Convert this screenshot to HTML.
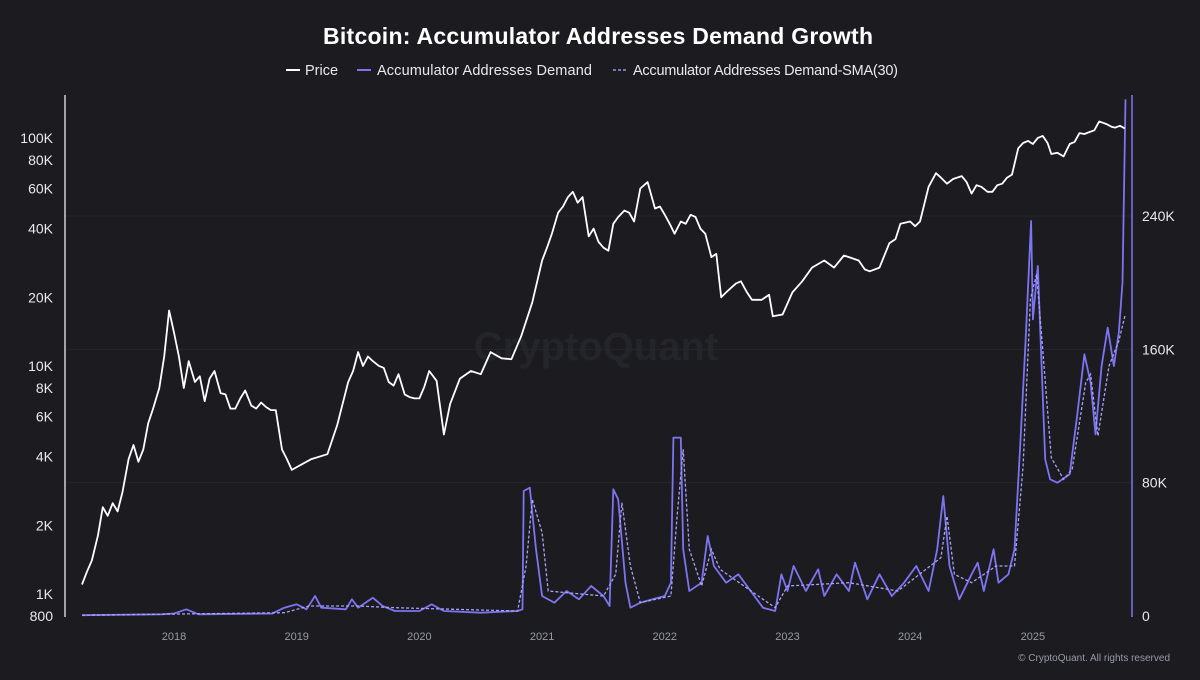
<!DOCTYPE html>
<html><head><meta charset="utf-8"><style>
html,body{margin:0;padding:0;background:#1b1b20;}
body{width:1200px;height:675px;overflow:hidden;font-family:"Liberation Sans",sans-serif;}
</style></head><body>
<svg id="chart" width="1200" height="675" xmlns="http://www.w3.org/2000/svg">
<rect width="1200" height="675" fill="#1b1b20"/>
<text x="598" y="44" fill="#ffffff" font-size="23" font-weight="bold" text-anchor="middle" textLength="550">Bitcoin: Accumulator Addresses Demand Growth</text>
<g font-size="14.5" fill="#e8e8ee">
 <g><line x1="286" y1="70" x2="300" y2="70" stroke="#fff" stroke-width="2"/><text x="305" y="75">Price</text></g>
 <g><line x1="357" y1="70" x2="371" y2="70" stroke="#7d74f2" stroke-width="2"/><text x="377" y="75" textLength="215">Accumulator Addresses Demand</text></g>
 <g><line x1="613" y1="70" x2="627" y2="70" stroke="#9a93f5" stroke-width="1.5" stroke-dasharray="3,2"/><text x="633" y="75" textLength="265">Accumulator Addresses Demand-SMA(30)</text></g>
</g>
<text x="596" y="360" fill="#24242b" font-size="40" font-weight="bold" text-anchor="middle">CryptoQuant</text>
<g id="grid"></g>
<g id="leftAxis" font-size="14" fill="#e8e8ee" text-anchor="end"></g>
<g id="rightAxis" font-size="14" fill="#e8e8ee"></g>
<g id="xAxis" font-size="11" fill="#9a9aa5" text-anchor="middle"></g>
<g id="series"></g>
<line x1="65" y1="95" x2="65" y2="617" stroke="#d0d0d8" stroke-width="1.5"/>
<line x1="1132" y1="95" x2="1132" y2="617" stroke="#7d74f2" stroke-width="1.5"/>
<text x="1170" y="661" fill="#9a9aa5" font-size="10" text-anchor="end">© CryptoQuant. All rights reserved</text>
</svg>
<script>
const priceDates=[2017.25,2017.29,2017.33,2017.38,2017.42,2017.46,2017.5,2017.54,2017.58,2017.63,2017.67,2017.71,2017.75,2017.79,2017.83,2017.88,2017.92,2017.96,2018.0,2018.04,2018.08,2018.12,2018.17,2018.21,2018.25,2018.29,2018.33,2018.38,2018.42,2018.46,2018.5,2018.54,2018.58,2018.63,2018.67,2018.71,2018.75,2018.79,2018.83,2018.88,2018.92,2018.96,2019.0,2019.04,2019.12,2019.25,2019.33,2019.38,2019.42,2019.46,2019.5,2019.54,2019.58,2019.62,2019.67,2019.71,2019.75,2019.79,2019.83,2019.88,2019.92,2019.96,2020.0,2020.04,2020.08,2020.14,2020.2,2020.25,2020.33,2020.42,2020.5,2020.58,2020.67,2020.75,2020.83,2020.92,2021.0,2021.04,2021.08,2021.13,2021.17,2021.21,2021.25,2021.29,2021.33,2021.38,2021.42,2021.46,2021.5,2021.54,2021.58,2021.62,2021.67,2021.71,2021.75,2021.8,2021.86,2021.92,2021.96,2022.0,2022.04,2022.08,2022.13,2022.17,2022.21,2022.25,2022.29,2022.33,2022.38,2022.42,2022.46,2022.5,2022.54,2022.58,2022.62,2022.67,2022.71,2022.79,2022.85,2022.88,2022.96,2023.04,2023.12,2023.2,2023.25,2023.3,2023.38,2023.46,2023.5,2023.58,2023.63,2023.67,2023.75,2023.83,2023.88,2023.92,2024.0,2024.04,2024.08,2024.15,2024.21,2024.25,2024.3,2024.35,2024.42,2024.46,2024.5,2024.54,2024.58,2024.63,2024.67,2024.71,2024.75,2024.79,2024.83,2024.88,2024.92,2024.96,2025.0,2025.04,2025.08,2025.12,2025.15,2025.2,2025.25,2025.3,2025.34,2025.38,2025.42,2025.46,2025.5,2025.54,2025.58,2025.6,2025.64,2025.67,2025.71,2025.75];
const priceValues=[1100,1250,1400,1800,2400,2200,2500,2300,2800,3900,4500,3800,4300,5600,6500,8000,11000,17500,14000,11000,8000,10500,8500,9000,7000,8800,9500,7600,7500,6500,6500,7200,7800,6700,6500,6900,6600,6400,6400,4300,3900,3500,3600,3700,3900,4100,5500,7000,8500,9500,11500,10000,11000,10500,10000,9800,8500,8200,9200,7500,7300,7200,7200,8100,9500,8600,5000,6800,8800,9500,9200,11500,10800,10700,13500,19000,29000,33000,38000,47000,50000,55000,58000,52000,55000,37000,40000,35000,33000,32000,42000,45000,48000,47000,43000,60000,64000,49000,50000,46000,42000,38000,43000,42000,46000,45000,40000,38000,30000,31000,20000,21000,22000,23000,23500,21000,19500,19500,20500,16500,16800,21000,23500,27000,28000,29000,27000,30500,30000,29000,26500,26000,27000,34500,36000,42000,43000,41000,43000,61000,70000,67000,63000,66000,68000,64000,57000,62000,61000,58000,58000,62000,63000,67000,69000,90000,95000,97000,94000,100000,102000,95000,85000,86000,83000,94000,96000,105000,104000,106000,108000,118000,116000,115000,112000,111000,113000,110000];
const demandDates=[2017.25,2017.9,2018.0,2018.1,2018.2,2018.8,2018.9,2019.0,2019.08,2019.15,2019.2,2019.4,2019.45,2019.5,2019.62,2019.7,2019.8,2020.0,2020.1,2020.2,2020.5,2020.8,2020.84,2020.85,2020.9,2020.95,2021.0,2021.1,2021.2,2021.3,2021.4,2021.5,2021.55,2021.58,2021.62,2021.68,2021.72,2021.8,2021.9,2022.0,2022.05,2022.07,2022.13,2022.15,2022.2,2022.3,2022.35,2022.4,2022.5,2022.6,2022.7,2022.8,2022.9,2022.95,2023.0,2023.05,2023.15,2023.25,2023.3,2023.4,2023.5,2023.55,2023.65,2023.75,2023.85,2023.95,2024.05,2024.15,2024.22,2024.27,2024.32,2024.4,2024.5,2024.55,2024.6,2024.68,2024.72,2024.8,2024.85,2024.895,2024.94,2024.985,2025.0,2025.04,2025.1,2025.14,2025.2,2025.3,2025.36,2025.42,2025.47,2025.51,2025.56,2025.61,2025.66,2025.7,2025.73,2025.755];
const demandValues=[0.5,1,1.5,4,1,1.5,5,7,4,12,5,4,10,5,11,6,3,3,7,3,2,3,4,75,77,40,12,8,15,10,18,12,6,76,70,20,5,8,10,12,20,107,107,40,15,20,48,30,20,25,15,5,3,25,15,30,15,28,12,25,15,32,10,25,12,20,30,15,40,72,30,10,25,32,15,40,20,25,40,100,164,237,178,210,94,82,80,85,120,157,140,109,150,173,150,170,200,310];
const smaDates=[2017.25,2018.9,2019.1,2019.5,2019.8,2020.8,2020.87,2020.92,2021.0,2021.05,2021.5,2021.6,2021.65,2021.72,2021.8,2022.05,2022.1,2022.15,2022.2,2022.3,2022.38,2022.45,2022.8,2022.9,2023.0,2023.5,2023.9,2024.25,2024.3,2024.36,2024.5,2024.7,2024.85,2024.92,2024.98,2025.03,2025.08,2025.15,2025.25,2025.32,2025.43,2025.47,2025.53,2025.62,2025.7,2025.75];
const smaValues=[0.5,2,6,6,5,3,30,70,50,15,12,25,68,30,8,12,60,100,40,18,40,28,10,5,18,20,15,35,60,25,20,30,30,90,190,205,160,95,82,88,140,145,108,150,165,180];
const leftTicks=[800,1000,2000,4000,6000,8000,10000,20000,40000,60000,80000,100000];
const leftTickLabels=["800","1K","2K","4K","6K","8K","10K","20K","40K","60K","80K","100K"];
const rightTicks=[0,80000,160000,240000];
const rightTickLabels=["0","80K","160K","240K"];
const xTicks=[2018,2019,2020,2021,2022,2023,2024,2025];

const NS="http://www.w3.org/2000/svg";
const xs=y=>174+(y-2018)*122.7;
const yL=v=>616-(Math.log10(v)-Math.log10(800))*228;
const yR=v=>616-v/240000*400;
function mk(tag,attrs,parent){const e=document.createElementNS(NS,tag);for(const k in attrs)e.setAttribute(k,attrs[k]);parent.appendChild(e);return e;}
const grid=document.getElementById('grid'),la=document.getElementById('leftAxis'),ra=document.getElementById('rightAxis'),xa=document.getElementById('xAxis'),ser=document.getElementById('series');
rightTicks.forEach((t,i)=>{
  if(t>0){const g=mk('line',{x1:66,x2:1131,y1:yR(t),y2:yR(t),stroke:'#26262e','stroke-width':1},grid);
  
  }
  const tx=mk('text',{x:1142,y:yR(t)+5},ra);tx.textContent=rightTickLabels[i];
  
  
});
leftTicks.forEach((t,i)=>{
  const tx=mk('text',{x:53,y:yL(t)+5},la);tx.textContent=leftTickLabels[i];
  
  
});
xTicks.forEach(t=>{
  const tx=mk('text',{x:xs(t),y:640},xa);tx.textContent=String(t);
  
  
});
function path(d,v,fx,fy){return d.map((x,i)=>(i?'L':'M')+fx(x).toFixed(1)+','+fy(v[i]).toFixed(1)).join(' ');}
const dl=mk('path',{d:path(demandDates,demandValues.map(v=>v*1000),xs,yR),fill:'none',stroke:'#7d74f2','stroke-width':1.8,'stroke-linejoin':'round'},ser);


const sl=mk('path',{d:path(smaDates,smaValues.map(v=>v*1000),xs,yR),fill:'none',stroke:'#a8a2f7','stroke-width':1.3,'stroke-dasharray':'3,2'},ser);


const pl=mk('path',{d:path(priceDates,priceValues,xs,yL),fill:'none',stroke:'#ffffff','stroke-width':1.8,'stroke-linejoin':'round'},ser);


</script>
</body></html>
